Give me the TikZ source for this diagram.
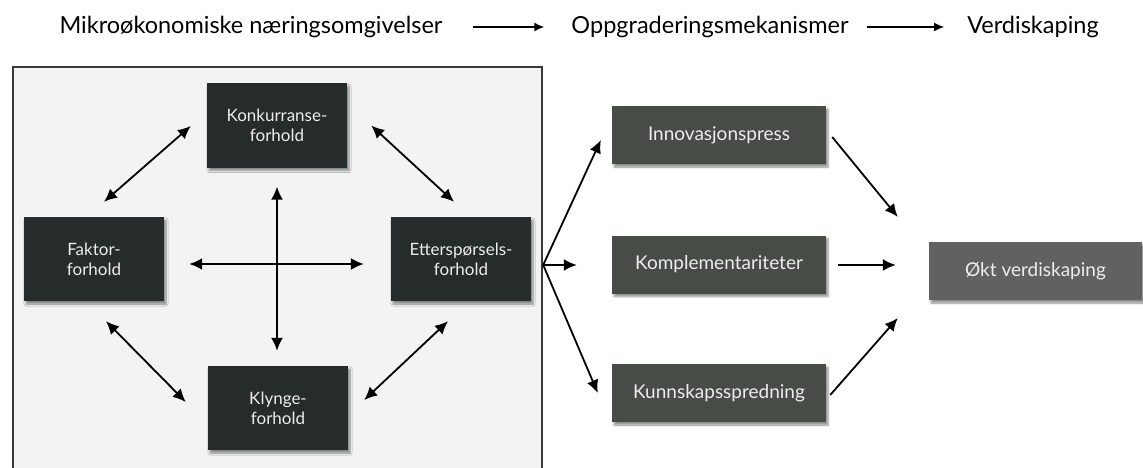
\documentclass[tikz,border=0pt]{standalone}
\usepackage{fontspec}
\setmainfont{Lato}
\usepackage{xcolor}
\usepackage{tikz}
\usetikzlibrary{arrows.meta,shadows.blur,calc}

\definecolor{boxdark}{HTML}{262B2B}
\definecolor{boxmid}{HTML}{484C46}
\definecolor{boxgrey}{HTML}{616161}
\definecolor{panelbg}{HTML}{F3F3F3}
\definecolor{panelline}{HTML}{3A3A3A}
\definecolor{boxtext}{HTML}{EDEDED}

\tikzset{
    >={Latex[length=13pt,width=12pt]},
    boxshadow/.style={blur shadow={shadow xshift=2pt, shadow yshift=-3pt, shadow blur steps=6, shadow opacity=45}},
    factor/.style={boxshadow, fill=boxdark, text=boxtext, minimum width=140, minimum height=84,
        align=center, font=\fontsize{17}{20}\selectfont},
    mech/.style={boxshadow, fill=boxmid, text=boxtext, minimum width=214, minimum height=58,
        font=\fontsize{19}{22}\selectfont},
    result/.style={boxshadow, fill=boxgrey, text=boxtext, minimum width=213, minimum height=58,
        font=\fontsize{19}{22}\selectfont},
    heading/.style={inner sep=0, font=\fontsize{23.5}{27}\selectfont},
    link/.style={line width=1.8pt},
    toplink/.style={line width=1.6pt, -{Latex[length=10pt,width=9pt]}},
}

\begin{document}
\begin{tikzpicture}[x=1pt, y=-1pt]
    \useasboundingbox (0,0) rectangle (1143,468);

    % Headings
    \node[heading] (h1) at (251,27) {Mikroøkonomiske næringsomgivelser};
    \node[heading] (h2) at (710,27) {Oppgraderingsmekanismer};
    \node[heading] (h3) at (1033,27) {Verdiskaping};
    \draw[toplink] ([xshift=30]h1.east) -- ([xshift=-27]h2.west);
    \draw[toplink] ([xshift=18]h2.east) -- ([xshift=-23]h3.west);

    % Panel
    \fill[panelbg] (13,67) rectangle (542,468);
    \draw[panelline, line width=1.5pt] (13,468) -- (13,67) -- (542,67) -- (542,468);

    % Diamond of conditions
    \node[factor] (konk) at (277,125.5) {Konkurranse-\\forhold};
    \node[factor] (fak) at (94,259) {Faktor-\\forhold};
    \node[factor] (ett) at (461,259) {Etterspørsels-\\forhold};
    \node[factor] (kly) at (278,408) {Klynge-\\forhold};

    \draw[link, <->] ([shift={(10,-15)}]fak.north) -- ([shift={(-16,0.5)}]konk.west);
    \draw[link, <->] ([shift={(24,0)}]konk.east) -- ([shift={(-7,-15)}]ett.north);
    \draw[link, <->] ([shift={(12,20)}]fak.south) -- ([shift={(-22,-6)}]kly.west);
    \draw[link, <->] ([shift={(-13,20)}]ett.south) -- ([shift={(16,-8)}]kly.east);
    \draw[link, <->] ([shift={(25,5)}]fak.east) -- ([shift={(-27,5)}]ett.west);
    \draw[link, <->] ([shift={(0,19)}]konk.south) -- ([shift={(-1,-15)}]kly.north);

    % Mechanisms
    \node[mech] (ino) at (719,135) {Innovasjonspress};
    \node[mech] (kom) at (719,264.5) {Komplementariteter};
    \node[mech] (kun) at (719,393) {Kunnskapsspredning};
    \node[result] (okt) at (1035.5,271) {Økt verdiskaping};

    \coordinate (fan) at ([shift={(12,6)}]ett.east);
    \draw[link, ->] (fan) -- ([shift={(-11,5)}]ino.west);
    \draw[link, ->] (fan) -- ([shift={(-35,0.5)}]kom.west);
    \draw[link, ->] (fan) -- ([shift={(-14,0)}]kun.west);

    \draw[link, ->] ([shift={(6,2)}]ino.east) -- ([shift={(-31,-54)}]okt.west);
    \draw[link, ->] ([shift={(12,0.5)}]kom.east) -- ([shift={(-33,-6)}]okt.west);
    \draw[link, ->] ([shift={(4,2)}]kun.east) -- ([shift={(-31,47)}]okt.west);
\end{tikzpicture}
\end{document}
